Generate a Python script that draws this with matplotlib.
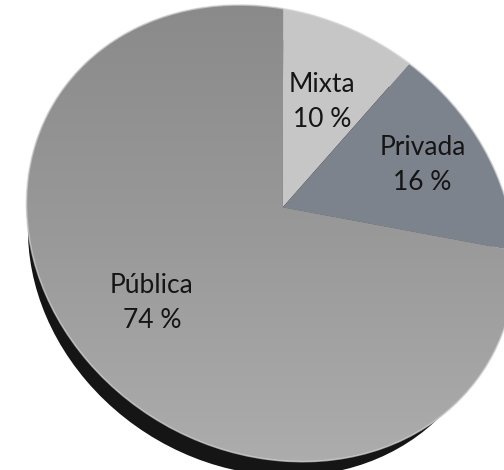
import numpy as np
import matplotlib
matplotlib.use("Agg")
import matplotlib.pyplot as plt
from matplotlib.transforms import Transform, Affine2D
from matplotlib.colors import LinearSegmentedColormap
from matplotlib.patches import Circle

# shares of the three categories
labels = ["Mixta", "Privada", "Pública"]
values = [10, 16, 74]
colors = ["#c6c6c6", "#7c838d", "#9c9c9c"]
label_dist = [0.56, 0.68, 0.68]

W, H = 504, 470

# the disc lies on a tilted plane: points of the unit pie (angle in degrees
# measured from 12 o'clock, clockwise; radius) and where they land in the image
view_src = [(0, 0.0), (0, 1.0), (180, 1.0), (36, 1.0), (93.6, 1.0), (270, 1.0),
            (135, 1.0)]
view_dst = [(285, 204), (283, 12), (290, 457), (410, 63), (518, 245), (25, 175),
            (452, 407)]


def homography(src, dst):
    rows, rhs = [], []
    for (ang, r), (X, Y) in zip(src, dst):
        x, y = r * np.sin(np.radians(ang)), r * np.cos(np.radians(ang))
        rows.append([x, y, 1, 0, 0, 0, -X * x, -X * y]); rhs.append(X)
        rows.append([0, 0, 0, x, y, 1, -Y * x, -Y * y]); rhs.append(Y)
    h = np.linalg.lstsq(np.array(rows, float), np.array(rhs, float), rcond=None)[0]
    return np.append(h, 1.0).reshape(3, 3)


class Tilt(Transform):
    input_dims = output_dims = 2

    def __init__(self, M):
        super().__init__()
        self.M = M

    def transform_non_affine(self, values):
        values = np.asarray(values, float)
        pts = np.column_stack([values, np.ones(len(values))]) @ self.M.T
        return pts[:, :2] / pts[:, 2:3]

    def inverted(self):
        return Tilt(np.linalg.inv(self.M))


fig = plt.figure(figsize=(W / 100, H / 100), dpi=100)
ax = fig.add_axes([0, 0, 1, 1])

tilt = Tilt(homography(view_src, view_dst)) + ax.transData

# dark rim showing the thickness of the disc
rim = Circle((-0.041, -0.113), 0.94, facecolor="#151515", edgecolor="none",
             transform=Affine2D() + tilt, zorder=1)
ax.add_patch(rim)

wedges, texts = ax.pie(values, labels=[f"{l}\n{v} %" for l, v in zip(labels, values)],
                       colors=colors, startangle=90, counterclock=False,
                       radius=1.0, wedgeprops=dict(linewidth=0),
                       textprops=dict(fontsize=19, family=["Lato", "DejaVu Sans"],
                                      color="#151515", linespacing=1.5))
ax.set_xlim(0, W)
ax.set_ylim(H, 0)
ax.set_aspect("auto")
ax.axis("off")

for w in wedges:
    w.set_transform(tilt)
    w.set_zorder(2)
for w, t, d in zip(wedges, texts, label_dist):
    mid = np.radians((w.theta1 + w.theta2) / 2)
    t.set_position((d * np.cos(mid), d * np.sin(mid)))
    t.set_transform(tilt)
    t.set_ha("center")
    t.set_va("center")
    t.set_zorder(5)

# vertical shading on the large wedge
shade = LinearSegmentedColormap.from_list("shade", ["#8a8a8a", "#999999", "#adadad"])
grad = np.linspace(0, 1, 256).reshape(-1, 1)
img = ax.imshow(grad, cmap=shade, extent=(0, W, H, 0), aspect="auto", zorder=3)
img.set_clip_path(wedges[2])

# soft light edge round the face
edge = Circle((0, 0), 1.0, facecolor="none", edgecolor="#d4d4d4", linewidth=1.2,
              alpha=0.7, transform=Affine2D() + tilt, zorder=4)
ax.add_patch(edge)

fig.savefig("out.png", dpi=100)
